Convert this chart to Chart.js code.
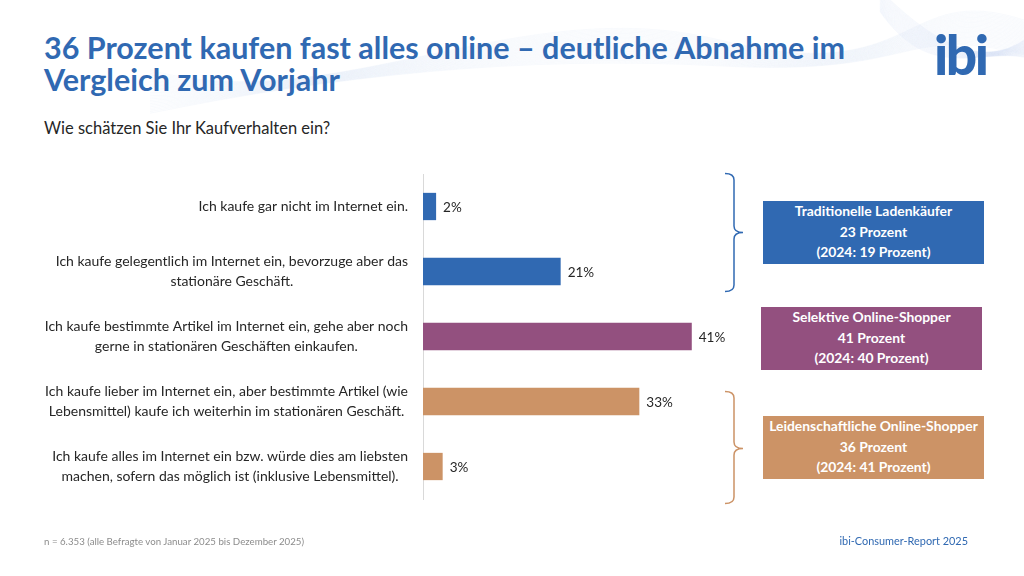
<!DOCTYPE html>
<html lang="de">
<head>
<meta charset="utf-8">
<script src="https://cdn.jsdelivr.net/npm/chart.js@4.4.1/dist/chart.umd.min.js"></script>
<style>
  body { margin: 0; width: 1024px; height: 576px; overflow: hidden; background: #fff; font-family: Lato, "Noto Sans", sans-serif; position: relative; }
  #waves { position: absolute; left: 0; top: 0; }
  #title { position: absolute; left: 44px; top: 31px; font-weight: bold; font-size: 30.5px; line-height: 32px; color: #3069b2; white-space: nowrap; }
  #logo { position: absolute; left: 934px; top: 21px; font-weight: 900; font-size: 55px; color: #3069b2; letter-spacing: -2.5px; }
  #question { position: absolute; left: 44px; top: 118px; font-size: 16.5px; color: #262626; }
  #chart { position: absolute; left: 0; top: 0; }
  .seg { position: absolute; width: 221px; height: 63px; color: #fff; font-weight: bold; font-size: 13.9px; line-height: 20.5px; text-align: center; box-sizing: border-box; padding-top: 0; }
  #note { position: absolute; left: 44px; top: 535px; font-size: 9.7px; color: #8c8c8c; }
  #source { position: absolute; right: 56px; top: 534px; font-size: 10.9px; color: #3069b2; }
</style>
</head>
<body>
<svg id="waves" width="1024" height="140"></svg>
<div id="title">36 Prozent kaufen fast alles online – deutliche Abnahme im<br>Vergleich zum Vorjahr</div>
<div id="logo">ibi</div>
<div id="question">Wie schätzen Sie Ihr Kaufverhalten ein?</div>
<canvas id="chart" width="1024" height="576"></canvas>
<svg id="braces" width="1024" height="576" style="position:absolute;left:0;top:0;pointer-events:none">
  <path d="M725,173.5 Q734,173.5 734,180 L734,226 Q734,232.5 743,232.5 Q734,232.5 734,239 L734,285 Q734,291.5 725,291.5" fill="none" stroke="#3069b2" stroke-width="1.5"/>
  <path d="M725,391.5 Q734,391.5 734,398 L734,442 Q734,448.5 743,448.5 Q734,448.5 734,455 L734,497 Q734,503.5 725,503.5" fill="none" stroke="#cc9366" stroke-width="1.5"/>
</svg>
<div id="seg0" class="seg" style="left:763px;top:201px;background:#3069b2"></div>
<div id="seg1" class="seg" style="left:761px;top:307px;background:#93507f"></div>
<div id="seg2" class="seg" style="left:763px;top:416px;background:#cc9366"></div>
<div id="note">n = 6.353 (alle Befragte von Januar 2025 bis Dezember 2025)</div>
<div id="source">ibi-Consumer-Report 2025</div>
<script>
// Antwortkategorien (mehrzeilig wie im Original)
const categories = [
  ["Ich kaufe gar nicht im Internet ein."],
  ["Ich kaufe gelegentlich im Internet ein, bevorzuge aber das", "stationäre Geschäft."],
  ["Ich kaufe bestimmte Artikel im Internet ein, gehe aber noch", "gerne in stationären Geschäften einkaufen."],
  ["Ich kaufe lieber im Internet ein, aber bestimmte Artikel (wie", "Lebensmittel) kaufe ich weiterhin im stationären Geschäft."],
  ["Ich kaufe alles im Internet ein bzw. würde dies am liebsten", "machen, sofern das möglich ist (inklusive Lebensmittel)."]
];
const shares = [2, 21, 41, 33, 3];
const barColors = ["#3069b2", "#3069b2", "#93507f", "#cc9366", "#cc9366"];

// Segmente rechts
const segmentNames = ["Traditionelle Ladenkäufer", "Selektive Online-Shopper", "Leidenschaftliche Online-Shopper"];
const segmentShares = [23, 41, 36];
const segmentShares2024 = [19, 40, 41];

segmentNames.forEach((name, i) => {
  document.getElementById("seg" + i).innerHTML =
    name + "<br>" + segmentShares[i] + " Prozent<br>(2024: " + segmentShares2024[i] + " Prozent)";
});

// faint background waves
(function drawWaves() {
  const svg = document.getElementById("waves");
  let paths = "";
  for (let k = 0; k < 28; k++) {
    const o = k * 1.6;
    paths += '<path d="M150,' + (70 + o) + ' C330,' + (120 - o) + ' 520,' + (-10 + o * 1.5) + ' 720,' + (40 + o * 0.6) +
      ' S900,' + (-20 + o) + ' 1024,' + (20 + o * 0.8) + '" fill="none" stroke="#bcd0ec" stroke-width="0.5" opacity="0.22"/>';
    paths += '<path d="M880,' + (-10 + o * 0.5) + ' C930,' + (40 + o) + ' 980,' + (70 - o * 0.5) + ' 1024,' + (40 + o * 0.4) +
      '" fill="none" stroke="#bcd0ec" stroke-width="0.5" opacity="0.25"/>';
  }
  svg.innerHTML = paths;
})();

const labelFont = "14px Lato, 'Noto Sans', sans-serif";

const categoryLabels = {
  id: "categoryLabels",
  afterDraw(chart) {
    const ctx = chart.ctx;
    const yScale = chart.scales.y;
    const right = yScale.right - 15;
    const lh = 19.5;
    ctx.save();
    ctx.font = labelFont;
    ctx.fillStyle = "#262626";
    ctx.textAlign = "center";
    ctx.textBaseline = "middle";
    categories.forEach((lines, i) => {
      const y = yScale.getPixelForValue(i);
      const w = Math.max(...lines.map(l => ctx.measureText(l).width));
      const cx = right - w / 2;
      lines.forEach((l, j) => {
        ctx.fillText(l, cx, y + (j - (lines.length - 1) / 2) * lh);
      });
    });
    ctx.restore();
  }
};

const valueLabels = {
  id: "valueLabels",
  afterDatasetsDraw(chart) {
    const ctx = chart.ctx;
    const meta = chart.getDatasetMeta(0);
    ctx.save();
    ctx.font = "13.5px Lato, 'Noto Sans', sans-serif";
    ctx.fillStyle = "#262626";
    ctx.textAlign = "left";
    ctx.textBaseline = "middle";
    meta.data.forEach((bar, i) => {
      ctx.fillText(shares[i] + "%", bar.x + 7, bar.y + 1);
    });
    ctx.restore();
  }
};

new Chart(document.getElementById("chart"), {
  type: "bar",
  data: {
    labels: categories,
    datasets: [{
      data: shares,
      backgroundColor: barColors,
      borderWidth: 0,
      barPercentage: 0.42,
      categoryPercentage: 1
    }]
  },
  options: {
    indexAxis: "y",
    responsive: false,
    animation: false,
    layout: { padding: { top: 174, bottom: 77, left: 0, right: 306 } },
    plugins: { legend: { display: false }, tooltip: { enabled: false } },
    scales: {
      x: { display: false, min: 0, max: 45 },
      y: {
        afterFit(axis) { axis.width = 423; },
        grid: { display: false },
        border: { display: true, color: "#d9d9d9", width: 1 },
        ticks: { display: false }
      }
    }
  },
  plugins: [categoryLabels, valueLabels]
});
</script>
</body>
</html>
